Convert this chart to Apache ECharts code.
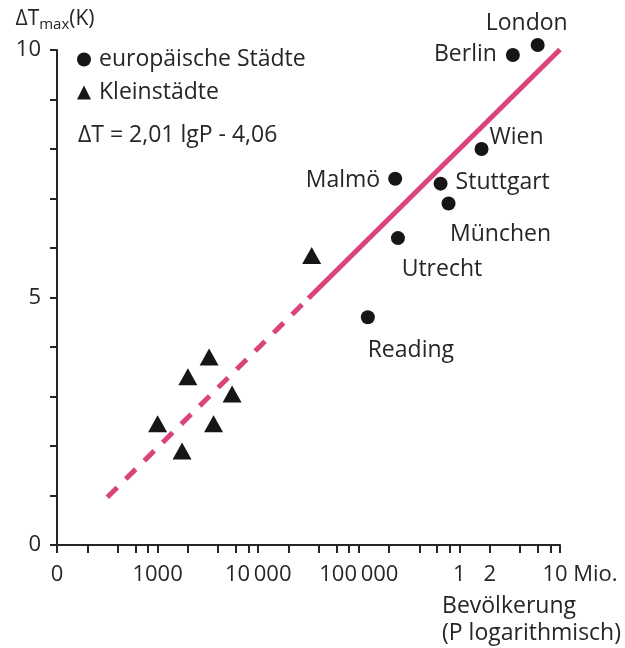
<!DOCTYPE html>
<html>
<head>
<meta charset="utf-8">
<script src="https://cdn.jsdelivr.net/npm/echarts@6/dist/echarts.min.js"></script>
<style>
  html, body { margin: 0; padding: 0; background: #fff; }
  #chart { width: 625px; height: 648px; }
</style>
</head>
<body>
<div id="chart"></div>
<script>
// European cities: population and maximum heat-island intensity ΔTmax (K)
const cityNames = ['London', 'Berlin', 'Wien', 'Malmö', 'Stuttgart', 'München', 'Utrecht', 'Reading'];
const cityPopulation = [6000000, 3400000, 1660000, 230000, 650000, 780000, 245000, 123000];
const cityDeltaT = [10.1, 9.9, 8.0, 7.4, 7.3, 6.9, 6.2, 4.6];

// Small towns
const townPopulation = [34000, 3250, 2000, 5500, 1000, 3600, 1750];
const townDeltaT = [5.85, 3.8, 3.4, 3.05, 2.45, 2.45, 1.9];

// Regression ΔT = 2,01 lgP - 4,06 (dashed where extrapolated to small towns)
const fitSlope = 2.01;
const fitIntercept = -4.06;
const fitDashedRange = [316, 31600];
const fitSolidRange = [31600, 10000000];

// Axis ticks and labels
const xTickValues = [
  100, 200, 400, 600, 800,
  1000, 2000, 4000, 6000, 8000,
  10000, 20000, 40000, 60000, 80000,
  100000, 200000, 400000, 600000, 800000,
  1000000, 2000000, 4000000, 6000000, 8000000, 10000000
];
const xLabelValues = [100, 1000, 10000, 100000, 1000000, 2000000, 10000000];
const xLabelTexts = ['0', '1000', '10\u2009000', '100\u2009000', '1', '2', '10 Mio.'];
const yTickValues = [0, 1, 2, 3, 4, 5, 6, 7, 8, 9, 10];
const yLabelValues = [0, 5, 10];

// Label placement around each city marker
const cityLabelLayout = {
  'London':    { position: 'top',    distance: 3,  offset: [-11, 0] },
  'Berlin':    { position: 'left',   distance: 9,  offset: [0, 0] },
  'Wien':      { position: 'right',  distance: 1,  offset: [0, -12] },
  'Malmö':     { position: 'left',   distance: 8,  offset: [0, 2] },
  'Stuttgart': { position: 'right',  distance: 8,  offset: [0, -1] },
  'München':   { position: 'bottom', distance: 13, offset: [52, 0] },
  'Utrecht':   { position: 'bottom', distance: 13, offset: [44, 0] },
  'Reading':   { position: 'bottom', distance: 15, offset: [43, 0] }
};

const FONT = '"Open Sans", sans-serif';
const TEXT = '#262626';
const MARK = '#161616';
const LINE = '#da437c';

const fitAt = p => fitSlope * Math.log10(p) + fitIntercept;

const cityData = cityNames.map((name, i) => ({
  name,
  value: [cityPopulation[i], cityDeltaT[i]],
  label: Object.assign({ show: true, formatter: '{b}' }, cityLabelLayout[name])
}));
const townData = townPopulation.map((p, i) => [p, townDeltaT[i]]);

const labelKey = v => Math.round(Math.log10(v) * 1000);
const xLabelMap = {};
xLabelValues.forEach((v, i) => { xLabelMap[labelKey(v)] = xLabelTexts[i]; });

const chart = echarts.init(document.getElementById('chart'), null, { renderer: 'canvas' });

chart.setOption({
  animation: false,
  backgroundColor: '#ffffff',
  grid: { left: 57, right: 65, top: 50, bottom: 103, containLabel: false },
  legend: {
    orient: 'vertical',
    left: 72,
    top: 43,
    itemWidth: 14,
    itemHeight: 14,
    itemGap: 10,
    textStyle: { fontFamily: FONT, fontSize: 23, color: TEXT, padding: [0, 0, 0, 3] },
    data: [
      { name: 'europäische Städte', icon: 'circle', itemStyle: { color: MARK, opacity: 1 } },
      { name: 'Kleinstädte', icon: 'triangle', itemStyle: { color: MARK, opacity: 1 } }
    ]
  },
  xAxis: {
    type: 'log',
    logBase: 10,
    min: 100,
    max: 10000000,
    axisLine: { lineStyle: { color: TEXT, width: 2 } },
    axisTick: { show: true, length: 8, inside: false, customValues: xTickValues, lineStyle: { color: TEXT, width: 2 } },
    axisLabel: {
      customValues: xLabelValues,
      margin: 19,
      fontFamily: FONT,
      fontSize: 22,
      color: TEXT,
      formatter: v => {
        const t = xLabelMap[labelKey(v)];
        if (t === '10 Mio.') return '{end|' + t + '}';
        return t === undefined ? '' : t;
      },
      rich: {
        end: { fontFamily: FONT, fontSize: 22, color: TEXT, padding: [0, 0, 0, 40] }
      }
    },
    splitLine: { show: false },
    minorTick: { show: false }
  },
  yAxis: {
    type: 'value',
    min: 0,
    max: 10,
    interval: 1,
    name: '{a|ΔT}{s|max}{a|(K)}',
    nameLocation: 'end',
    nameGap: 18,
    nameTextStyle: {
      align: 'center',
      padding: [0, 0, 0, -4],
      rich: {
        a: { fontFamily: FONT, fontSize: 21, color: TEXT },
        s: { fontFamily: FONT, fontSize: 15, color: TEXT, padding: [10, 0, 0, 0] }
      }
    },
    axisLine: { show: true, lineStyle: { color: TEXT, width: 2 } },
    axisTick: { show: true, length: 7, customValues: yTickValues, lineStyle: { color: TEXT, width: 2 } },
    axisLabel: {
      customValues: yLabelValues,
      margin: 16,
      fontFamily: FONT,
      fontSize: 22,
      color: TEXT
    },
    splitLine: { show: false }
  },
  series: [
    {
      name: 'Regression (extrapoliert)',
      type: 'line',
      data: fitDashedRange.map(p => [p, fitAt(p)]),
      symbol: 'none',
      lineStyle: { color: LINE, width: 5, type: [14, 12] },
      z: 1
    },
    {
      name: 'Regression',
      type: 'line',
      data: fitSolidRange.map(p => [p, fitAt(p)]),
      symbol: 'none',
      lineStyle: { color: LINE, width: 5 },
      clip: false,
      z: 1
    },
    {
      name: 'europäische Städte',
      type: 'scatter',
      symbol: 'circle',
      symbolSize: 14,
      itemStyle: { color: MARK, opacity: 1 },
      clip: false,
      label: { fontFamily: FONT, fontSize: 23, color: TEXT },
      data: cityData,
      z: 3
    },
    {
      name: 'Kleinstädte',
      type: 'scatter',
      symbol: 'triangle',
      symbolSize: [19, 17],
      itemStyle: { color: MARK, opacity: 1 },
      data: townData,
      z: 3
    }
  ],
  graphic: [
    {
      type: 'text',
      left: 78,
      top: 124,
      style: { text: 'ΔT = 2,01 lgP - 4,06', font: '23px ' + FONT, fill: TEXT }
    },
    {
      type: 'text',
      right: 4,
      top: 593,
      style: {
        text: 'Bevölkerung\n(P logarithmisch)',
        font: '23px ' + FONT,
        fill: TEXT,
        align: 'right',
        lineHeight: 27
      }
    }
  ]
});
</script>
</body>
</html>
